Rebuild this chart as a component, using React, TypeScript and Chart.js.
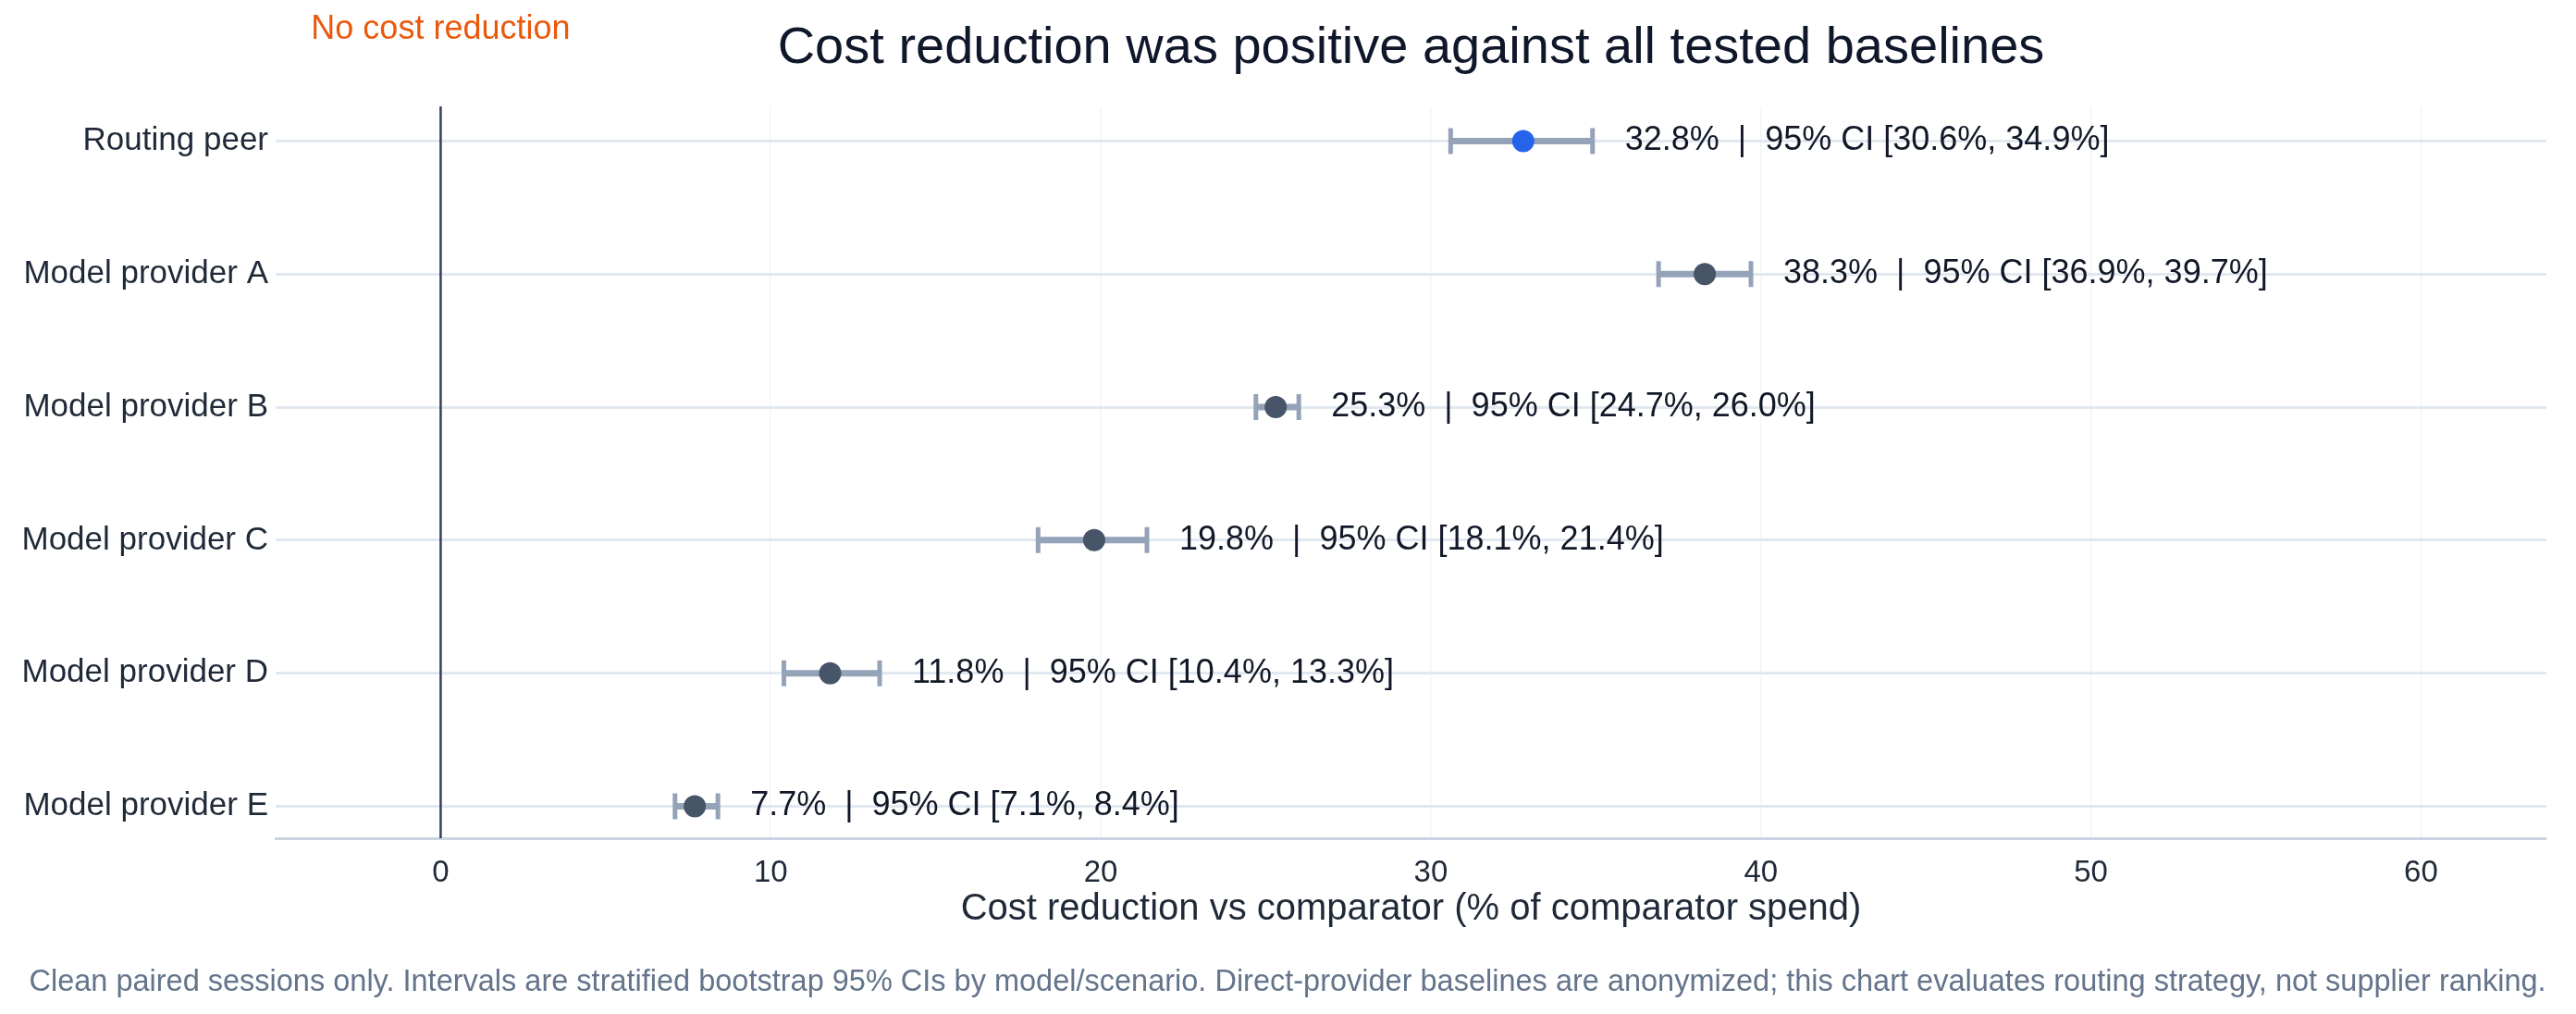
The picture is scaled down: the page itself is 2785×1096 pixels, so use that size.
import React, { useEffect, useRef } from "react";
import { Chart, registerables } from "chart.js";
Chart.register(...registerables);

const categories = ["Routing peer", "Model provider A", "Model provider B", "Model provider C", "Model provider D", "Model provider E"];
const estimates = [32.8, 38.3, 25.3, 19.8, 11.8, 7.7];
const ciLow = [30.6, 36.9, 24.7, 18.1, 10.4, 7.1];
const ciHigh = [34.9, 39.7, 26.0, 21.4, 13.3, 8.4];
const xTicks = [0, 10, 20, 30, 40, 50, 60];

const FONT = "'Liberation Sans', Arial, sans-serif";

export default function App() {
  const ref = useRef<HTMLCanvasElement>(null);
  useEffect(() => {
    const cv = ref.current!;
    const drawPlugin = {
      id: "custom",
      beforeDatasetsDraw(chart: any) {
        const { ctx, chartArea, scales } = chart;
        const xs = scales.x, ys = scales.y;
        ctx.save();
        const x0 = xs.getPixelForValue(0);
        ctx.strokeStyle = "#334155";
        ctx.lineWidth = 2.5;
        ctx.beginPath();
        ctx.moveTo(x0, chartArea.top);
        ctx.lineTo(x0, chartArea.bottom);
        ctx.stroke();
        ctx.strokeStyle = "#94a3b8";
        ctx.lineWidth = 7;
        estimates.forEach((_, i) => {
          const y = ys.getPixelForValue(i);
          const a = xs.getPixelForValue(ciLow[i]);
          const b = xs.getPixelForValue(ciHigh[i]);
          ctx.beginPath();
          ctx.moveTo(a, y); ctx.lineTo(b, y);
          ctx.stroke();
          ctx.lineWidth = 5;
          ctx.beginPath();
          ctx.moveTo(a, y - 14); ctx.lineTo(a, y + 14);
          ctx.moveTo(b, y - 14); ctx.lineTo(b, y + 14);
          ctx.stroke();
          ctx.lineWidth = 7;
        });
        ctx.restore();
      },
      afterDatasetsDraw(chart: any) {
        const { ctx, chartArea, scales } = chart;
        const xs = scales.x, ys = scales.y;
        ctx.save();
        ctx.fillStyle = "#111827";
        ctx.font = `36px ${FONT}`;
        ctx.textBaseline = "middle";
        ctx.textAlign = "left";
        estimates.forEach((v, i) => {
          const y = ys.getPixelForValue(i);
          const x = xs.getPixelForValue(ciHigh[i]) + 35;
          ctx.fillText(`${v.toFixed(1)}%  |  95% CI [${ciLow[i].toFixed(1)}%, ${ciHigh[i].toFixed(1)}%]`, x, y);
        });
        ctx.textAlign = "center";
        ctx.fillStyle = "#ea580c";
        ctx.font = `36px ${FONT}`;
        ctx.fillText("No cost reduction", xs.getPixelForValue(0), 32);
        ctx.fillStyle = "#0f172a";
        ctx.font = `56px ${FONT}`;
        ctx.fillText("Cost reduction was positive against all tested baselines", (chartArea.left + chartArea.right) / 2, 53);
        ctx.fillStyle = "#1f2937";
        ctx.font = `40px ${FONT}`;
        ctx.fillText("Cost reduction vs comparator (% of comparator spend)", (chartArea.left + chartArea.right) / 2, 983);
        ctx.fillStyle = "#64748b";
        ctx.font = `32.5px ${FONT}`;
        ctx.fillText("Clean paired sessions only. Intervals are stratified bootstrap 95% CIs by model/scenario. Direct-provider baselines are anonymized; this chart evaluates routing strategy, not supplier ranking.", 1392, 1062);
        ctx.restore();
      },
    };
    const chart = new Chart(cv, {
      type: "scatter",
      data: {
        datasets: [
          {
            data: estimates.map((v, i) => ({ x: v, y: i })),
            pointRadius: 12,
            pointHoverRadius: 12,
            pointBackgroundColor: estimates.map((_, i) => (i === 0 ? "#2563eb" : "#475569")),
            pointBorderWidth: 0,
          },
        ],
      },
      options: {
        animation: false,
        responsive: false,
        devicePixelRatio: 1,
        layout: { padding: { top: 115, right: 32, left: 0, bottom: 0 } },
        plugins: { legend: { display: false }, tooltip: { enabled: false }, title: { display: false } },
        scales: {
          x: {
            type: "linear",
            min: -5,
            max: 63.8,
            afterBuildTicks: (s: any) => { s.ticks = xTicks.map((v) => ({ value: v })); },
            afterFit: (s: any) => { s.height = 190; },
            ticks: { color: "#1f2937", font: { size: 33, family: FONT }, padding: 18 },
            grid: { color: "#f3f4f6", lineWidth: 1.5, drawTicks: false },
            border: { color: "#cbd5e1", width: 3 },
          },
          y: {
            type: "linear",
            reverse: true,
            min: -0.26,
            max: 5.24,
            afterBuildTicks: (s: any) => { s.ticks = categories.map((_, i) => ({ value: i })); },
            afterFit: (s: any) => { s.width = 298; },
            ticks: { color: "#1f2937", font: { size: 35, family: FONT }, padding: 8, callback: (v: any) => categories[v] ?? "" },
            grid: { color: "#e2e8f0", lineWidth: 3, drawTicks: false },
            border: { display: false },
          },
        },
      },
      plugins: [drawPlugin],
    });
    return () => chart.destroy();
  }, []);
  return (
    <div style={{ position: "fixed", left: 0, top: 0, width: 2785, height: 1096, background: "#fff" }}>
      <canvas ref={ref} width={2785} height={1096} style={{ width: 2785, height: 1096 }} />
    </div>
  );
}
